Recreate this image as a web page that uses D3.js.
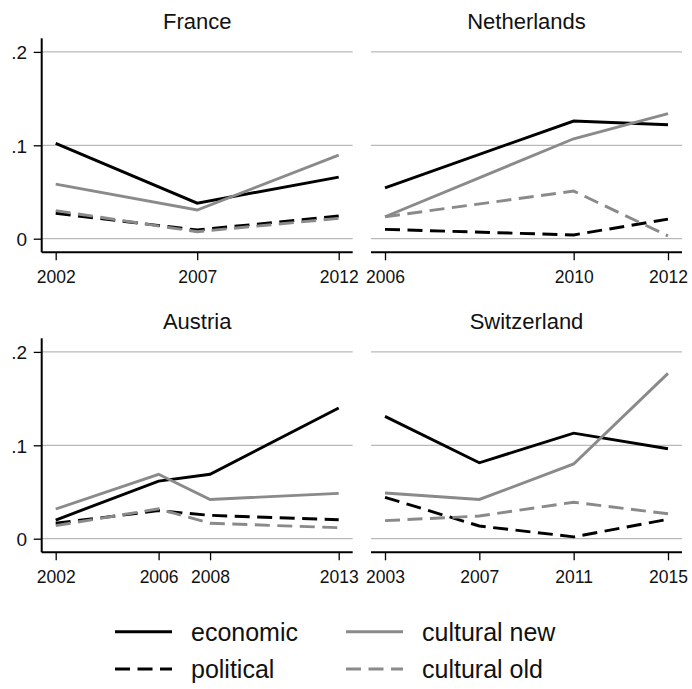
<!DOCTYPE html>
<html>
<head>
<meta charset="utf-8">
<script src="https://cdn.jsdelivr.net/npm/d3@7"></script>
<style>
  body { margin: 0; background: #fff; }
  svg { display: block; font-family: "Liberation Sans", Arial, sans-serif; }
</style>
</head>
<body>
<div id="chart"></div>
<script>
// values
const countries = ["France", "Netherlands", "Austria", "Switzerland"];
const years = [
  [2002, 2007, 2012],
  [2006, 2010, 2012],
  [2002, 2006, 2008, 2013],
  [2003, 2007, 2011, 2015]
];
const economic = [
  [0.102, 0.038, 0.066],
  [0.0545, 0.126, 0.122],
  [0.020, 0.0617, 0.069, 0.140],
  [0.131, 0.0813, 0.113, 0.0963]
];
const culturalNew = [
  [0.0585, 0.0307, 0.0895],
  [0.0235, 0.107, 0.134],
  [0.0318, 0.069, 0.042, 0.0485],
  [0.049, 0.042, 0.080, 0.177]
];
const political = [
  [0.0272, 0.0093, 0.0243],
  [0.010, 0.004, 0.021],
  [0.0165, 0.030, 0.025, 0.0203],
  [0.0443, 0.0136, 0.002, 0.0207]
];
const culturalOld = [
  [0.030, 0.0075, 0.0218],
  [0.0235, 0.051, 0.003],
  [0.014, 0.032, 0.0165, 0.0118],
  [0.0193, 0.0243, 0.039, 0.0267]
];
const yTicks = [0, 0.1, 0.2];
const yTickLabels = ["0", ".1", ".2"];
const seriesNames = ["economic", "cultural new", "political", "cultural old"];

const width = 692;
const height = 689;

const black = "#000";
const gray = "#8a8a8a";
const styles = [
  { color: black, dash: null },
  { color: gray, dash: null },
  { color: black, dash: "15,7.5" },
  { color: gray, dash: "15,7.5" }
];
const seriesData = [economic, culturalNew, political, culturalOld];

// panel regions
const colLeft = [41.7, 371];
const rowTop = [38.3, 338.3];
const regionW = 311;
const regionH = 214;
const inset = { x: 14, y: 13.6 };

const svg = d3.select("#chart").append("svg")
  .attr("width", width)
  .attr("height", height);

countries.forEach((name, i) => {
  const col = i % 2, row = Math.floor(i / 2);
  const left = colLeft[col], top = rowTop[row];
  const g = svg.append("g").attr("transform", `translate(${left},${top})`);

  const x = d3.scaleLinear()
    .domain(d3.extent(years[i]))
    .range([inset.x, regionW - inset.x]);
  const y = d3.scaleLinear()
    .domain([0, 0.2])
    .range([regionH - inset.y, inset.y]);

  // gridlines
  g.append("g")
    .selectAll("line")
    .data(yTicks)
    .join("line")
    .attr("x1", 0).attr("x2", regionW)
    .attr("y1", d => y(d)).attr("y2", d => y(d))
    .attr("stroke", "#a8a8a8")
    .attr("stroke-width", 1);

  // x axis
  const xAxis = d3.axisBottom(x)
    .tickValues(years[i])
    .tickFormat(d3.format("d"))
    .tickSize(8)
    .tickSizeOuter(0);
  const xg = g.append("g")
    .attr("transform", `translate(0,${regionH})`)
    .call(xAxis);
  xg.select(".domain").attr("d", `M0,0H${regionW}`).attr("stroke", black).attr("stroke-width", 2);
  xg.selectAll(".tick line").attr("stroke", black).attr("stroke-width", 1.3);
  xg.selectAll(".tick text")
    .attr("y", 30.5)
    .attr("dy", 0)
    .attr("fill", "#111")
    .style("font-size", "17.5px")
    .style("font-family", "'Liberation Sans', Arial, sans-serif");

  // y axis on left panels only
  if (col === 0) {
    const yAxis = d3.axisLeft(y)
      .tickValues(yTicks)
      .tickFormat((d, k) => yTickLabels[k])
      .tickSize(8)
      .tickSizeOuter(0);
    const yg = g.append("g").call(yAxis);
    yg.select(".domain").attr("d", `M0,0V${regionH}`).attr("stroke", black).attr("stroke-width", 2);
    yg.selectAll(".tick line").attr("stroke", black).attr("stroke-width", 1.3);
    yg.selectAll(".tick text")
      .attr("x", -14.5)
      .attr("dy", "0.36em")
      .attr("fill", "#111")
      .style("font-size", "19px")
      .style("font-family", "'Liberation Sans', Arial, sans-serif");
  }

  // title
  g.append("text")
    .attr("x", regionW / 2)
    .attr("y", -9)
    .attr("text-anchor", "middle")
    .attr("fill", "#111")
    .style("font-size", "22px")
    .text(name);

  // lines
  const line = d3.line().x(d => x(d.year)).y(d => y(d.value));
  seriesData.forEach((s, k) => {
    const pts = years[i].map((yr, j) => ({ year: yr, value: s[i][j] }));
    g.append("path")
      .datum(pts)
      .attr("fill", "none")
      .attr("stroke", styles[k].color)
      .attr("stroke-width", 2.9)
      .attr("stroke-dasharray", styles[k].dash)
      .attr("d", line);
  });
});

// legend
const legendX = [115, 346];
const legendY = [631.7, 669];
const legend = svg.append("g");
seriesNames.forEach((nm, k) => {
  const lx = legendX[k % 2], ly = legendY[Math.floor(k / 2)];
  legend.append("line")
    .attr("x1", lx).attr("x2", lx + 57)
    .attr("y1", ly).attr("y2", ly)
    .attr("stroke", styles[k].color)
    .attr("stroke-width", 3)
    .attr("stroke-dasharray", styles[k].dash);
  legend.append("text")
    .attr("x", lx + 76)
    .attr("y", ly)
    .attr("dy", "0.36em")
    .attr("fill", "#111")
    .style("font-size", "25px")
    .text(nm);
});
</script>
</body>
</html>
